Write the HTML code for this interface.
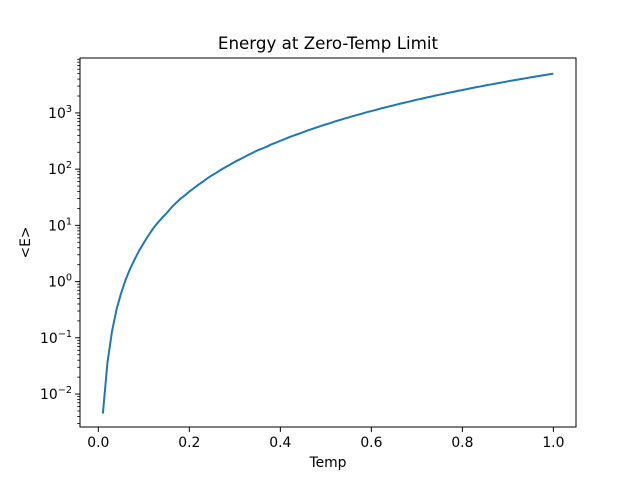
<!DOCTYPE html>
<html><head><meta charset="utf-8"><style>
body{margin:0;background:#fff;}
svg{display:block;font-family:"DejaVu Sans","Liberation Sans",sans-serif;}
</style></head><body>
<svg id="chart" width="640" height="480" xmlns="http://www.w3.org/2000/svg">
<rect width="640" height="480" fill="#fff"/>
<text x="328" y="49" text-anchor="middle" font-size="16.7">Energy at Zero-Temp Limit</text>
<text x="328" y="467" text-anchor="middle" font-size="13.9">Temp</text>
<text transform="translate(30,242.5) rotate(-90)" text-anchor="middle" font-size="13.9">&lt;E&gt;</text>
<g id="ticks"></g>
<path id="line" fill="none" stroke="#1f77b4" stroke-width="2" stroke-linejoin="round"/>
<rect x="80" y="58" width="496" height="369" fill="none" stroke="#000" stroke-width="1"/>
</svg>
<script>
const temps = [];
for (let i = 1; i <= 100; i++) temps.push(i / 100);
const energy = [0.0045,0.036,0.13,0.32,0.62,1.08,1.7,2.5,3.6,4.9,
6.6,8.7,11,13.6,16.5,20.5,24.8,29.5,34,40,
46,53,60,69,78,87,98,109,121,135,
148,163,180,197,216,232,251,275,296,320,
343,372,398,424,455,488,520,552,590,626,
660,705,745,790,830,880,925,975,1030,1080,
1130,1195,1250,1310,1370,1440,1500,1570,1640,1720,
1790,1870,1940,2030,2110,2190,2280,2370,2470,2560,
2650,2760,2860,2960,3070,3180,3290,3410,3520,3650,
3770,3890,4020,4150,4290,4420,4560,4710,4850,5000];
const xTicks = [0.0,0.2,0.4,0.6,0.8,1.0];
const xTickLabels = ["0.0","0.2","0.4","0.6","0.8","1.0"];
const yDecades = [-2,-1,0,1,2,3];
const yTickLabels = ["−2","−1","0","1","2","3"];

const X0=80,X1=576,Y0=58,Y1=427;
const xMin=-0.0403,xMax=1.0497,lMin=-2.586,lMax=3.977;
const sx=v=>X0+(v-xMin)/(xMax-xMin)*(X1-X0);
const sy=v=>Y1-(Math.log10(v)-lMin)/(lMax-lMin)*(Y1-Y0);
const NS="http://www.w3.org/2000/svg";
const g=document.getElementById('ticks');
function mk(tag,attrs){const e=document.createElementNS(NS,tag);for(const k in attrs)e.setAttribute(k,attrs[k]);g.appendChild(e);return e;}
xTicks.forEach((t,i)=>{
  const x=sx(t);
  const l=mk('line',{x1:x,x2:x,y1:Y1,y2:Y1+4.9,stroke:'#000','stroke-width':1});
  
  
  const tx=mk('text',{x:x,y:Y1+20,'text-anchor':'middle','font-size':13.9});
  tx.textContent=xTickLabels[i];
  
  
});
yDecades.forEach((d,i)=>{
  const y=sy(Math.pow(10,d));
  const l=mk('line',{x1:X0-4.9,x2:X0,y1:y,y2:y,stroke:'#000','stroke-width':1});
  
  
  const tx=mk('text',{x:X0-8,y:y+5,'text-anchor':'end','font-size':13.9});
  tx.innerHTML='10<tspan dy="-6" font-size="9.7">'+yTickLabels[i]+'</tspan>';
  
  
});
for(let d=-3;d<=3;d++){for(let m=2;m<=9;m++){
  const v=m*Math.pow(10,d);const y=sy(v);
  if(y<Y0||y>Y1)continue;
  const l=mk('line',{x1:X0-2.8,x2:X0,y1:y,y2:y,stroke:'#000','stroke-width':0.8});
  
  
}}
document.getElementById('line').setAttribute('d',temps.map((t,i)=>(i?'L':'M')+sx(t).toFixed(2)+' '+sy(energy[i]).toFixed(2)).join(' '));
</script>
</body></html>
